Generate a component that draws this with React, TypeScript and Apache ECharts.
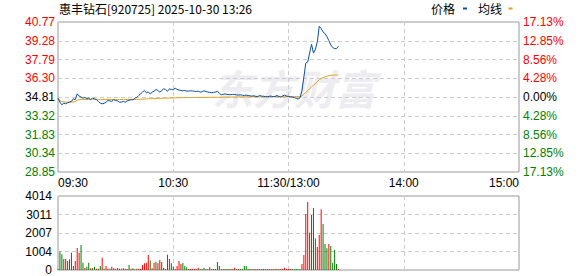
import React, { useEffect, useRef } from "react";
import * as echarts from "echarts";

const TITLE = "惠丰钻石[920725] 2025-10-30 13:26";
const LEGEND_PRICE = "价格";
const LEGEND_AVG = "均线";
const WATERMARK = "东方财富";

// tick labels, bottom -> top
const priceTicks = ["28.85", "30.34", "31.83", "33.32", "34.81", "36.30", "37.79", "39.28", "40.77"];
const pctTicks = ["17.13%", "12.85%", "8.56%", "4.28%", "0.00%", "4.28%", "8.56%", "12.85%", "17.13%"];
const volTicks = ["0", "1004", "2007", "3011", "4014"];
const xTickLabels = ["09:30", "10:30", "11:30/13:00", "14:00", "15:00"];

const PRICE_MIN = 28.85;
const PRICE_MAX = 40.77;
const PRICE_STEP = 1.49;
const VOL_MAX = 4014;
const VOL_STEP = 1003.5;

// minute prices 09:30 .. 11:30, 13:01 .. 13:26
const prices = [
  34.72, 34.40, 34.19, 34.32, 34.27, 34.35, 34.40, 34.46, 34.66, 34.60,
  35.06, 34.88, 34.81, 34.72, 34.77, 34.66, 34.72, 34.60, 34.72, 34.66,
  34.60, 34.46, 34.32, 34.27, 34.30, 34.40, 34.53, 34.50, 34.46, 34.60,
  34.53, 34.50, 34.40, 34.40, 34.46, 34.40, 34.50, 34.55, 34.60, 34.58,
  34.72, 34.77, 34.93, 35.06, 35.20, 35.33, 35.15, 35.20, 35.06, 35.20,
  35.27, 35.41, 35.33, 35.20, 35.33, 35.46, 35.41, 35.27, 35.46, 35.41,
  35.38, 35.51, 35.41, 35.36, 35.33, 35.30, 35.33, 35.28, 35.27, 35.31,
  35.29, 35.27, 35.25, 35.27, 35.20, 35.22, 35.31, 35.25, 35.20, 35.18,
  35.15, 35.18, 35.20, 35.27, 35.10, 34.98, 35.02, 35.06, 35.01, 35.00,
  34.99, 35.02, 35.01, 34.98, 34.96, 34.98, 34.95, 34.93, 34.96, 34.93,
  34.90, 34.88, 34.91, 34.86, 34.85, 34.93, 34.88, 34.87, 34.84, 34.82,
  34.87, 34.88, 34.82, 34.86, 34.93, 34.85, 34.80, 34.90, 34.96, 34.88,
  34.85, 34.83, 34.80, 34.77, 34.70, 34.64, 34.75, 35.30, 36.40, 37.50,
  37.60, 38.30, 39.00, 38.30, 38.60, 39.20, 40.43, 40.25, 39.98, 39.85,
  39.60, 39.30, 38.95, 38.74, 38.66, 38.66, 38.85,
];

const avgPrices = [
  34.72, 34.52, 34.44, 34.42, 34.40, 34.40, 34.40, 34.41, 34.41, 34.45,
  34.55, 34.60, 34.62, 34.62, 34.62, 34.62, 34.62, 34.63, 34.63, 34.63,
  34.63, 34.62, 34.62, 34.62, 34.61, 34.61, 34.61, 34.61, 34.61, 34.61,
  34.61, 34.61, 34.61, 34.61, 34.61, 34.61, 34.61, 34.61, 34.61, 34.61,
  34.61, 34.62, 34.62, 34.63, 34.64, 34.65, 34.66, 34.67, 34.67, 34.68,
  34.68, 34.69, 34.70, 34.70, 34.71, 34.71, 34.72, 34.72, 34.73, 34.73,
  34.74, 34.74, 34.75, 34.75, 34.76, 34.76, 34.76, 34.77, 34.77, 34.77,
  34.77, 34.77, 34.78, 34.78, 34.78, 34.78, 34.78, 34.78, 34.78, 34.78,
  34.79, 34.79, 34.79, 34.79, 34.79, 34.80, 34.80, 34.80, 34.80, 34.81,
  34.81, 34.81, 34.81, 34.81, 34.81, 34.82, 34.82, 34.82, 34.82, 34.82,
  34.82, 34.82, 34.83, 34.83, 34.83, 34.83, 34.83, 34.83, 34.83, 34.83,
  34.83, 34.83, 34.84, 34.84, 34.84, 34.84, 34.84, 34.84, 34.84, 34.84,
  34.84, 34.84, 34.84, 34.84, 34.84, 34.84, 34.84, 34.88, 35.02, 35.18,
  35.32, 35.47, 35.62, 35.75, 35.88, 36.02, 36.18, 36.28, 36.35, 36.41,
  36.46, 36.50, 36.53, 36.54, 36.55, 36.55, 36.56,
];

const volumes = [
  60, 1000, 850, 600, 600, 490, 580, 940, 220, 490,
  1200, 930, 1360, 400, 110, 180, 400, 90, 100, 180,
  70, 70, 220, 670, 70, 220, 70, 70, 180, 90,
  70, 110, 70, 70, 100, 70, 60, 270, 70, 100,
  40, 70, 70, 60, 270, 360, 400, 810, 510, 90,
  400, 450, 360, 540, 430, 120, 60, 830, 600, 360,
  180, 60, 220, 490, 325, 380, 220, 145, 60, 50,
  60, 50, 60, 120, 50, 60, 120, 50, 50, 150,
  50, 50, 60, 430, 220, 50, 60, 50, 50, 60,
  50, 50, 120, 50, 50, 50, 50, 220, 220, 50,
  50, 50, 50, 60, 50, 50, 60, 50, 50, 50,
  60, 50, 50, 60, 50, 50, 60, 50, 120, 60,
  50, 60, 50, 50, 50, 50, 50, 325, 810, 3035,
  3685, 2040, 2980, 3360, 1715, 1250, 1900, 3300, 2490, 1410,
  1175, 1410, 1300, 400, 1085, 325, 55,
];

// 1 = up (red), 0 = down (green)
const volUp = [
  0, 0, 0, 1, 0, 1, 1, 0, 0, 1,
  1, 1, 0, 0, 1, 0, 0, 1, 0, 0,
  1, 0, 0, 1, 0, 1, 1, 0, 1, 1,
  1, 1, 0, 1, 1, 0, 1, 0, 1, 0,
  1, 0, 1, 1, 1, 1, 1, 1, 0, 1,
  1, 0, 1, 1, 0, 1, 0, 1, 1, 0,
  0, 1, 1, 1, 1, 0, 0, 0, 1, 1,
  1, 1, 1, 1, 0, 0, 0, 1, 1, 0,
  1, 1, 1, 0, 0, 0, 1, 0, 0, 1,
  0, 1, 1, 0, 1, 0, 0, 0, 0, 0,
  0, 1, 0, 1, 1, 0, 1, 1, 0, 1,
  1, 1, 0, 1, 1, 0, 1, 1, 1, 1,
  1, 1, 0, 0, 0, 0, 0, 1, 1, 1,
  1, 0, 1, 0, 0, 1, 1, 1, 0, 0,
  0, 1, 0, 0, 0, 0, 1,
];

function buildMinutes(): string[] {
  const out: string[] = [];
  const fmt = (m: number) =>
    String(Math.floor(m / 60)).padStart(2, "0") + ":" + String(m % 60).padStart(2, "0");
  for (let m = 9 * 60 + 30; m <= 11 * 60 + 30; m++) out.push(fmt(m));
  for (let m = 13 * 60 + 1; m <= 15 * 60; m++) out.push(fmt(m));
  return out;
}

const FONT = "Liberation Sans";
const CJK = "Noto Sans CJK SC";

export default function App() {
  const ref = useRef<HTMLDivElement>(null);

  useEffect(() => {
    if (!ref.current) return;
    const chart = echarts.init(ref.current, undefined, { renderer: "svg" });
    const minutes = buildMinutes();
    const midIdx = 4;

    const splitX = {
      show: true,
      interval: (index: number) => index % 60 === 0 && index > 0 && index < minutes.length - 1,
      lineStyle: { color: "#cccccc", type: [4, 3] as any, width: 1 },
    };

    const option: any = {
      animation: false,
      backgroundColor: "#ffffff",
      textStyle: { fontFamily: FONT },
      grid: [
        { left: 58, top: 22, width: 461, height: 150, show: true, borderColor: "#999999", borderWidth: 1, backgroundColor: "transparent" },
        { left: 58, top: 196, width: 461, height: 74, show: true, borderColor: "#999999", borderWidth: 1, backgroundColor: "transparent" },
      ],
      xAxis: [
        {
          type: "category",
          gridIndex: 0,
          data: minutes,
          boundaryGap: false,
          axisLine: { show: false },
          axisTick: { show: false },
          axisLabel: {
            interval: (index: number) => index % 60 === 0,
            formatter: (_v: string, idx: number) => xTickLabels[Math.round(idx / 60)] ?? "",
            alignMinLabel: "left",
            alignMaxLabel: "right",
            margin: 5,
            color: "#000000",
            fontSize: 12,
            fontFamily: FONT,
          },
          splitLine: splitX,
        },
        {
          type: "category",
          gridIndex: 1,
          data: minutes,
          boundaryGap: false,
          axisLine: { show: false },
          axisTick: { show: false },
          axisLabel: { show: false },
          splitLine: splitX,
        },
      ],
      yAxis: [
        {
          type: "value",
          gridIndex: 0,
          min: 0,
          max: +(PRICE_MAX - PRICE_MIN).toFixed(2),
          interval: PRICE_STEP,
          axisLine: { show: false },
          axisTick: { show: false },
          splitLine: { show: true, lineStyle: { color: "#cccccc", type: [4, 3], width: 1 } },
          axisLabel: {
            margin: 3,
            fontSize: 12,
            fontFamily: FONT,
            formatter: (v: number) => {
              const k = Math.round(v / PRICE_STEP);
              const s = priceTicks[k] ?? "";
              const st = k > midIdx ? "r" : k < midIdx ? "g" : "k";
              return `{${st}|${s}}`;
            },
            rich: {
              r: { color: "#ff0000", fontSize: 12, fontFamily: FONT },
              g: { color: "#008000", fontSize: 12, fontFamily: FONT },
              k: { color: "#000000", fontSize: 12, fontFamily: FONT },
            },
          },
        },
        {
          type: "value",
          gridIndex: 0,
          position: "right",
          min: 0,
          max: +(PRICE_MAX - PRICE_MIN).toFixed(2),
          interval: PRICE_STEP,
          axisLine: { show: false },
          axisTick: { show: false },
          splitLine: { show: false },
          axisLabel: {
            margin: 4,
            fontSize: 12,
            fontFamily: FONT,
            formatter: (v: number) => {
              const k = Math.round(v / PRICE_STEP);
              const s = pctTicks[k] ?? "";
              const st = k > midIdx ? "r" : k < midIdx ? "g" : "k";
              return `{${st}|${s}}`;
            },
            rich: {
              r: { color: "#ff0000", fontSize: 12, fontFamily: FONT },
              g: { color: "#008000", fontSize: 12, fontFamily: FONT },
              k: { color: "#000000", fontSize: 12, fontFamily: FONT },
            },
          },
        },
        {
          type: "value",
          gridIndex: 1,
          min: 0,
          max: VOL_MAX,
          interval: VOL_STEP,
          axisLine: { show: false },
          axisTick: { show: false },
          splitLine: { show: true, lineStyle: { color: "#cccccc", type: [4, 3], width: 1 } },
          axisLabel: {
            margin: 6,
            fontSize: 12,
            fontFamily: FONT,
            color: "#000000",
            formatter: (v: number) => volTicks[Math.round(v / VOL_STEP)] ?? "",
          },
        },
      ],
      graphic: [
        {
          type: "text",
          left: 212,
          top: 66,
          z: 0,
          silent: true,
          style: {
            text: WATERMARK,
            fontSize: 41,
            fontWeight: "bold",
            fontStyle: "italic",
            fontFamily: CJK,
            fill: "#ededf1",
          },
        },
        {
          type: "text",
          left: 59,
          top: 2,
          style: { text: TITLE, fontSize: 12, fontFamily: CJK, fill: "#000000" },
        },
        {
          type: "text",
          left: 431,
          top: 2,
          style: { text: LEGEND_PRICE, fontSize: 12, fontFamily: CJK, fill: "#000000" },
        },
        { type: "rect", shape: { x: 463, y: 7.5, width: 4, height: 2 }, style: { fill: "#0b4fa0" } },
        {
          type: "text",
          left: 478,
          top: 2,
          style: { text: LEGEND_AVG, fontSize: 12, fontFamily: CJK, fill: "#000000" },
        },
        { type: "rect", shape: { x: 508.5, y: 7.5, width: 4, height: 2 }, style: { fill: "#e0a020" } },
      ],
      series: [
        {
          name: LEGEND_AVG,
          type: "line",
          xAxisIndex: 0,
          yAxisIndex: 0,
          data: avgPrices.map((p) => +(p - PRICE_MIN).toFixed(4)),
          showSymbol: false,
          symbol: "none",
          lineStyle: { color: "#e0a020", width: 1 },
          z: 3,
        },
        {
          name: LEGEND_PRICE,
          type: "line",
          xAxisIndex: 0,
          yAxisIndex: 0,
          data: prices.map((p) => +(p - PRICE_MIN).toFixed(4)),
          showSymbol: false,
          symbol: "none",
          lineStyle: { color: "#0b4fa0", width: 1 },
          z: 4,
        },
        {
          type: "bar",
          xAxisIndex: 1,
          yAxisIndex: 2,
          barWidth: 1,
          data: volumes.map((v, i) => ({
            value: v,
            itemStyle: { color: volUp[i] ? "#ff0000" : "#008000" },
          })),
          z: 3,
        },
      ],
    };

    chart.setOption(option);
    return () => chart.dispose();
  }, []);

  return <div ref={ref} style={{ width: 578, height: 276, position: "absolute", left: 0, top: 0 }} />;
}
